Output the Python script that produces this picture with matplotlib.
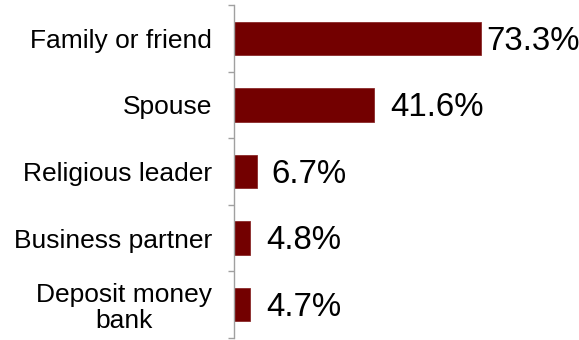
import matplotlib
matplotlib.use("Agg")
import matplotlib.pyplot as plt
from matplotlib.ticker import FixedLocator

categories = ["Family or friend", "Spouse", "Religious leader", "Business partner", "Deposit money\nbank"]
values = [73.3, 41.6, 6.7, 4.8, 4.7]
value_labels = ["73.3%", "41.6%", "6.7%", "4.8%", "4.7%"]

plt.rcParams['font.family'] = ['Liberation Sans', 'DejaVu Sans']

fig = plt.figure(figsize=(5.79, 3.40), dpi=100)
ax = fig.add_axes([234/579, 2/340, 1 - 234/579, 333/340])

ypos = list(range(len(categories)))
ax.barh(ypos, values, height=0.5, color="#730000", edgecolor="#8a2a2a", linewidth=0.6)
ax.set_ylim(len(categories) - 0.5, -0.5)
ax.set_xlim(0, 102.4)

offsets = [3.5, 11.5, 11, 11.5, 11.5]
for y, v, lab, off in zip(ypos, values, value_labels, offsets):
    ax.annotate(lab, (v, y), xytext=(off, -2), textcoords="offset points",
                va="center", ha="left", fontsize=23.8, color="#000000")

ax.set_yticks(ypos)
ax.set_yticklabels(categories, fontsize=19)
for t in ax.get_yticklabels():
    t.set_multialignment("center")
    t.set_linespacing(1.12)
ax.yaxis.set_minor_locator(FixedLocator([i - 0.5 for i in range(len(categories) + 1)]))
ax.tick_params(axis="y", which="major", length=0, pad=16)
ax.tick_params(axis="y", which="minor", length=4, width=1, color="#a0a0a0", direction="out")
ax.set_xticks([])
for s in ["top", "right", "bottom"]:
    ax.spines[s].set_visible(False)
ax.spines["left"].set_color("#a0a0a0")
ax.spines["left"].set_linewidth(1)

fig.savefig("out.png", dpi=100)
